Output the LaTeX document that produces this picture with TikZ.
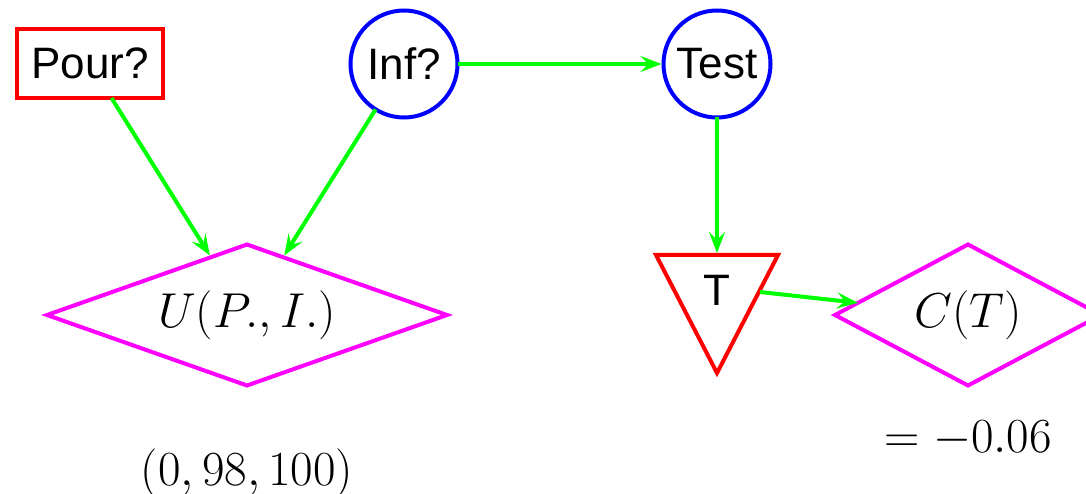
\RequirePackage{fix-cm}
\documentclass[tikz,border=0pt]{standalone}
\usepackage{fontspec}
\setsansfont{Liberation Sans}
\usetikzlibrary{shapes.geometric,arrows.meta}
\definecolor{mgreen}{RGB}{0,255,0}
\definecolor{mred}{RGB}{255,0,0}
\definecolor{mblue}{RGB}{0,0,255}
\definecolor{mmag}{RGB}{255,0,255}
\tikzset{
  lbl/.style={font=\fontsize{44}{50}\selectfont\sffamily},
  mth/.style={font=\fontsize{49}{55}\selectfont},
  decbox/.style={lbl,draw=mred,line width=4pt,rectangle,inner sep=0pt,minimum width=146pt,minimum height=69pt,outer sep=0pt},
  chance/.style={lbl,draw=mblue,line width=4pt,circle,inner sep=0pt,minimum size=107pt,outer sep=0pt},
  util/.style={mth,draw=mmag,line width=4pt,diamond,aspect=2.8,inner sep=0pt,outer sep=0pt},
  arr/.style={draw=mgreen,line width=4pt,-{Stealth[length=21pt,width=16pt,inset=8pt]},shorten >=2pt}
}
\begin{document}
\begin{tikzpicture}[x=1pt,y=-1pt]
\useasboundingbox (0,0) rectangle (1086,494);
\node[decbox] (pour) at (90,63.5) {Pour?};
\node[chance] (inf) at (404,64) {Inf?};
\node[chance] (test) at (717,64) {Test};
\node[util,minimum width=400pt,minimum height=141pt] (U) at (247,315) {$U(P.,I.)$};
\node[util,minimum width=266pt,minimum height=141pt] (C) at (968,315) {$C(T)$};
\draw[mred,line width=4pt,line join=miter] (656,255) -- (778,255) -- (717,373) -- cycle;
\node[lbl] (T) at (717,290) {T};
\coordinate (ttop) at (717,255);
\coordinate (tr) at (760,292);
\node[mth,anchor=base] (res) at (247,485) {$(0,98,100)$};
\node[mth,anchor=base] (cres) at (968,452) {$=-0.06$};
\draw[arr] (pour) -- (U);
\draw[arr] (inf) -- (U);
\draw[arr] (inf) -- (test);
\draw[arr] (test) -- (ttop);
\draw[arr,shorten >=0pt] (tr) -- (C);
\end{tikzpicture}
\end{document}
